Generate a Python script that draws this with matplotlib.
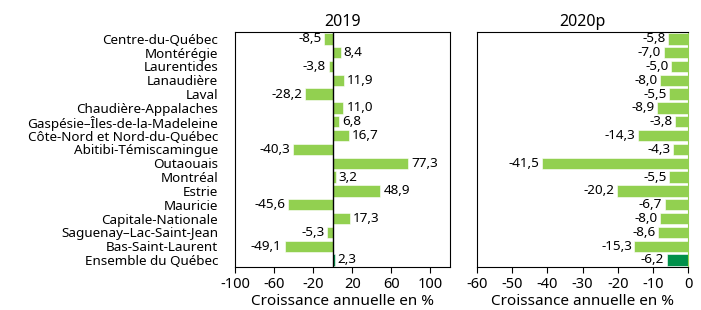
import matplotlib
matplotlib.use("Agg")
import matplotlib.pyplot as plt

plt.rcParams['font.family'] = ['Noto Sans', 'DejaVu Sans']
plt.rcParams['axes.unicode_minus'] = False

regions = ["Centre-du-Québec", "Montérégie", "Laurentides", "Lanaudière", "Laval",
           "Chaudière-Appalaches", "Gaspésie–Îles-de-la-Madeleine",
           "Côte-Nord et Nord-du-Québec", "Abitibi-Témiscamingue", "Outaouais",
           "Montréal", "Estrie", "Mauricie", "Capitale-Nationale",
           "Saguenay–Lac-Saint-Jean", "Bas-Saint-Laurent", "Ensemble du Québec"]
val_2019 = [-8.5, 8.4, -3.8, 11.9, -28.2, 11.0, 6.8, 16.7, -40.3, 77.3,
            3.2, 48.9, -45.6, 17.3, -5.3, -49.1, 2.3]
val_2020 = [-5.8, -7.0, -5.0, -8.0, -5.5, -8.9, -3.8, -14.3, -4.3, -41.5,
            -5.5, -20.2, -6.7, -8.0, -8.6, -15.3, -6.2]

light = '#92d050'
dark = '#00904a'
colors = [light] * (len(regions) - 1) + [dark]
fs = 9.7

def fmt(v):
    return ('%.1f' % v).replace('.', ',')

fig = plt.figure(figsize=(7.01, 3.10), dpi=100)
ax1 = fig.add_axes([0.335, 0.139, 0.307, 0.758])
ax2 = fig.add_axes([0.680, 0.139, 0.302, 0.758])

y = list(range(len(regions)))

# 2019
ax1.barh(y, val_2019, height=0.82, color=colors, edgecolor='white', linewidth=0.4)
ax1.axvline(0, color='black', linewidth=1)
for i, v in enumerate(val_2019):
    if v >= 0:
        ax1.text(v + 3, i, fmt(v), va='center', ha='left', fontsize=fs)
    else:
        ax1.text(v - 3, i, fmt(v), va='center', ha='right', fontsize=fs)
ax1.set_xlim(-100, 120)
ax1.set_ylim(len(regions) - 0.5, -0.5)
ax1.set_xticks([-100, -60, -20, 20, 60, 100])
ax1.set_yticks(y)
ax1.set_yticklabels(regions, fontsize=fs)
ax1.tick_params(axis='y', length=0, pad=12)
ax1.tick_params(axis='x', labelsize=10.5, direction='out', length=4)
ax1.set_xlabel('Croissance annuelle en %', fontsize=11, labelpad=1)
ax1.set_title('2019', fontsize=11.5, pad=4)
for s in ax1.spines.values():
    s.set_linewidth(0.8)

# 2020p
ax2.barh(y, val_2020, height=0.82, color=colors, edgecolor='white', linewidth=0.4)
for i, v in enumerate(val_2020):
    ax2.text(v - 0.7, i, fmt(v), va='center', ha='right', fontsize=fs)
ax2.set_xlim(-60, 0)
ax2.set_ylim(len(regions) - 0.5, -0.5)
ax2.set_xticks([-60, -50, -40, -30, -20, -10, 0])
ax2.set_yticks([])
ax2.tick_params(axis='x', labelsize=10.5, direction='out', length=4)
ax2.set_xlabel('Croissance annuelle en %', fontsize=11, labelpad=1)
ax2.set_title('2020p', fontsize=11.5, pad=4)
ax2.spines['right'].set_color(light)
for s in ax2.spines.values():
    s.set_linewidth(0.8)

fig.savefig('out.png', dpi=100)
